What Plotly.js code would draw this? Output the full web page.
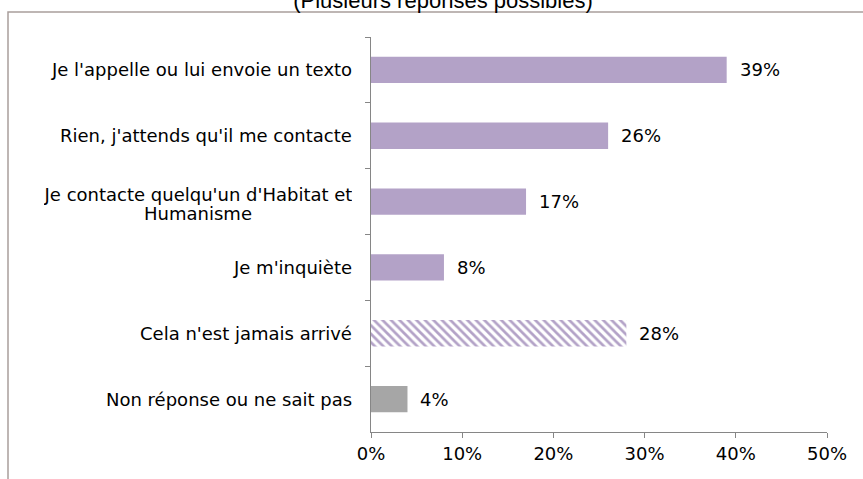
<!DOCTYPE html>
<html>
<head>
<meta charset="utf-8">
<script src="https://cdn.plot.ly/plotly-3.0.1.min.js"></script>
<style>
html,body{margin:0;padding:0;background:#fff;}
#chart{width:863px;height:479px;}
</style>
</head>
<body>
<div id="chart"></div>
<script>
const categories = [
  "Je l'appelle ou lui envoie un texto",
  "Rien, j'attends qu'il me contacte",
  "Je contacte quelqu'un d'Habitat et<br>Humanisme",
  "Je m'inquiète",
  "Cela n'est jamais arrivé",
  "Non réponse ou ne sait pas"
];
const values = [39, 26, 17, 8, 28, 4];
const barColors = ["#B3A2C7", "#B3A2C7", "#B3A2C7", "#B3A2C7", "#B3A2C7", "#A6A6A6"];
const hatched = [false, false, false, false, true, false];
const xTickVals = [0, 10, 20, 30, 40, 50];
const xTickText = ["0%", "10%", "20%", "30%", "40%", "50%"];
const titleText = "(Plusieurs réponses possibles)";

const FONT = "DejaVu Sans, Verdana, sans-serif";
const FS = 18;

const solidTrace = {
  type: "bar",
  orientation: "h",
  x: values.map((v, i) => hatched[i] ? null : v),
  y: categories,
  width: 0.4,
  marker: {color: barColors, line: {width: 0}},
  hoverinfo: "none"
};
const hatchTrace = {
  type: "bar",
  orientation: "h",
  x: values.map((v, i) => hatched[i] ? v : null),
  y: categories,
  width: 0.4,
  marker: {
    color: "#B3A2C7",
    line: {width: 0},
    pattern: {
      shape: "\\",
      fgcolor: "#B3A2C7",
      bgcolor: "#FFFFFF",
      size: 6,
      solidity: 0.45,
      fillmode: "replace"
    }
  },
  hoverinfo: "none"
};

const annotations = [];
categories.forEach((c, i) => {
  const lines = c.split("<br>");
  const lh = 19;
  lines.forEach((ln, k) => {
    annotations.push({
      xref: "paper", yref: "y", x: 0, y: c,
      xanchor: "right", yanchor: "middle",
      xshift: -17, yshift: ((lines.length - 1) / 2 - k) * lh - (lines.length > 1 ? 2 : 0),
      text: ln, showarrow: false, align: "center",
      width: lines.length > 1 ? 308 : null,
      font: {family: FONT, size: FS, color: "#000"}
    });
  });
  annotations.push({
    xref: "x", yref: "y", x: values[i], y: c,
    xanchor: "left", yanchor: "middle",
    xshift: 11, text: values[i] + "%", showarrow: false,
    font: {family: FONT, size: FS, color: "#000"}
  });
});

const layout = {
  width: 863, height: 479,
  margin: {l: 371, r: 36, t: 37, b: 47},
  paper_bgcolor: "#FFFFFF",
  plot_bgcolor: "#FFFFFF",
  showlegend: false,
  barmode: "overlay",
  title: {
    text: titleText,
    x: 443 / 863, xanchor: "center",
    xref: "container", yref: "container",
    y: 1.0, yanchor: "middle",
    font: {family: "Liberation Sans, Arial, sans-serif", size: 22, color: "#000"}
  },
  xaxis: {
    range: [0, 50],
    tickvals: xTickVals,
    ticktext: xTickText,
    showgrid: false, zeroline: false,
    showline: true, linecolor: "#868686", linewidth: 1,
    ticks: "outside", ticklen: 5, tickcolor: "#868686",
    tickfont: {family: FONT, size: FS, color: "#000"},
    fixedrange: true
  },
  yaxis: {
    type: "category",
    autorange: "reversed",
    showticklabels: false,
    showgrid: false, zeroline: false,
    showline: true, linecolor: "#868686", linewidth: 1,
    ticks: "outside", ticklen: 5, tickcolor: "#868686",
    tickson: "boundaries",
    fixedrange: true
  },
  annotations: annotations,
  shapes: [{
    type: "rect", xref: "paper", yref: "paper",
    x0: (8 - 371) / 456, x1: (875 - 371) / 456,
    y0: (432 - 495) / 395, y1: (432 - 12) / 395,
    line: {color: "#A99E9C", width: 1.5},
    fillcolor: "rgba(0,0,0,0)",
    layer: "below"
  }]
};

Plotly.newPlot("chart", [solidTrace, hatchTrace], layout, {displayModeBar: false, staticPlot: true});
</script>
</body>
</html>
